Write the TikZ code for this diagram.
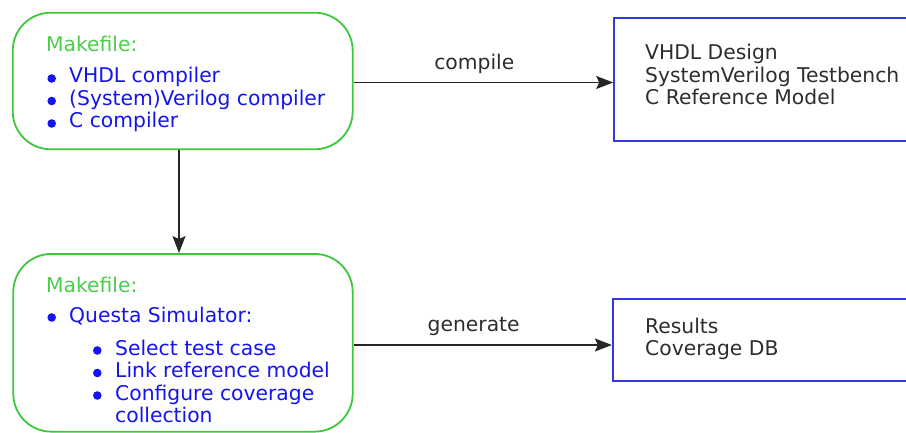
\documentclass[tikz,border=0pt]{standalone}
\usepackage{fontspec}
\setmainfont{DejaVu Sans}
\usetikzlibrary{arrows.meta}
\definecolor{mkgreen}{RGB}{75,205,75}
\definecolor{mkborder}{RGB}{60,200,60}
\definecolor{itemblue}{RGB}{20,20,240}
\definecolor{outborder}{RGB}{55,55,225}
\definecolor{outtext}{RGB}{45,45,45}
\begin{document}
\begin{tikzpicture}[x=1pt,y=-1pt,
  mkbox/.style={draw=mkborder, line width=1.8pt, rounded corners=38pt, inner sep=0pt},
  outbox/.style={draw=outborder, line width=1.6pt, inner sep=0pt},
  txt/.style={anchor=base west, inner sep=0pt, font=\fontsize{20.3}{23}\selectfont},
  head/.style={txt, text=mkgreen},
  item/.style={txt, text=itemblue},
  outtxt/.style={txt, text=outtext},
  lbl/.style={anchor=base, inner sep=0pt, font=\fontsize{20.3}{23}\selectfont, text=outtext},
  arr/.style={draw=black!85, line width=1.3pt, -{Stealth[length=17pt,width=13pt,inset=3pt]}},
  dot/.style={fill=itemblue}]
\useasboundingbox (0,0) rectangle (906,433);
\clip (0,0) rectangle (906,433);

% process boxes
\node[mkbox, minimum width=340pt, minimum height=136.6pt] (mk1) at (182.7,81) {};
\node[mkbox, minimum width=339.4pt, minimum height=177.7pt] (mk2) at (183,342.8) {};

% output boxes (running past the right edge)
\node[outbox, minimum width=320pt, minimum height=123pt] (out1) at (774,79.5) {};
\node[outbox, minimum width=320pt, minimum height=82pt] (out2) at (772.7,340) {};

% compile step
\node[head] (h1) at (46,52) {Makefile:};
\node[item] (i1) at (69,83) {VHDL compiler};
\node[item] (i2) at (69,105.5) {(System)Verilog compiler};
\node[item] (i3) at (69,128) {C compiler};
\fill[dot] (51.7,78.5) circle (4.3pt);
\fill[dot] (51.7,101) circle (4.3pt);
\fill[dot] (51.7,123.5) circle (4.3pt);

% simulation step
\node[head] (h2) at (46,292) {Makefile:};
\node[item] (q0) at (69,322) {Questa Simulator:};
\node[item] (q1) at (115,355) {Select test case};
\node[item] (q2) at (115,377.5) {Link reference model};
\node[item] (q3) at (115,400) {Configure coverage};
\node[item] (q4) at (115,422.5) {collection};
\fill[dot] (51.7,317.5) circle (4.3pt);
\fill[dot] (97.3,350.5) circle (4.3pt);
\fill[dot] (97.3,373) circle (4.3pt);
\fill[dot] (97.3,395.5) circle (4.3pt);

% output contents
\node[outtxt] (o1) at (645,60) {VHDL Design};
\node[outtxt] (o2) at (645,82.5) {SystemVerilog Testbench};
\node[outtxt] (o3) at (645,105) {C Reference Model};
\node[outtxt] (r1) at (645,333) {Results};
\node[outtxt] (r2) at (645,355.5) {Coverage DB};

% connectors
\draw[arr] ([yshift=-1.5pt]mk1.east) coordinate (c1) -- (c1 -| out1.west)
  node[lbl, pos=0.465, yshift=12.5pt] (lc) {compile};
\draw[arr] ([yshift=-2.2pt]mk2.east) coordinate (c2) -- (c2 -| out2.west)
  node[lbl, pos=0.465, yshift=14pt] (lg) {generate};
\draw[arr] ([xshift=-3.7pt]mk1.south) coordinate (c3) -- (c3 |- mk2.north);
\end{tikzpicture}
\end{document}
